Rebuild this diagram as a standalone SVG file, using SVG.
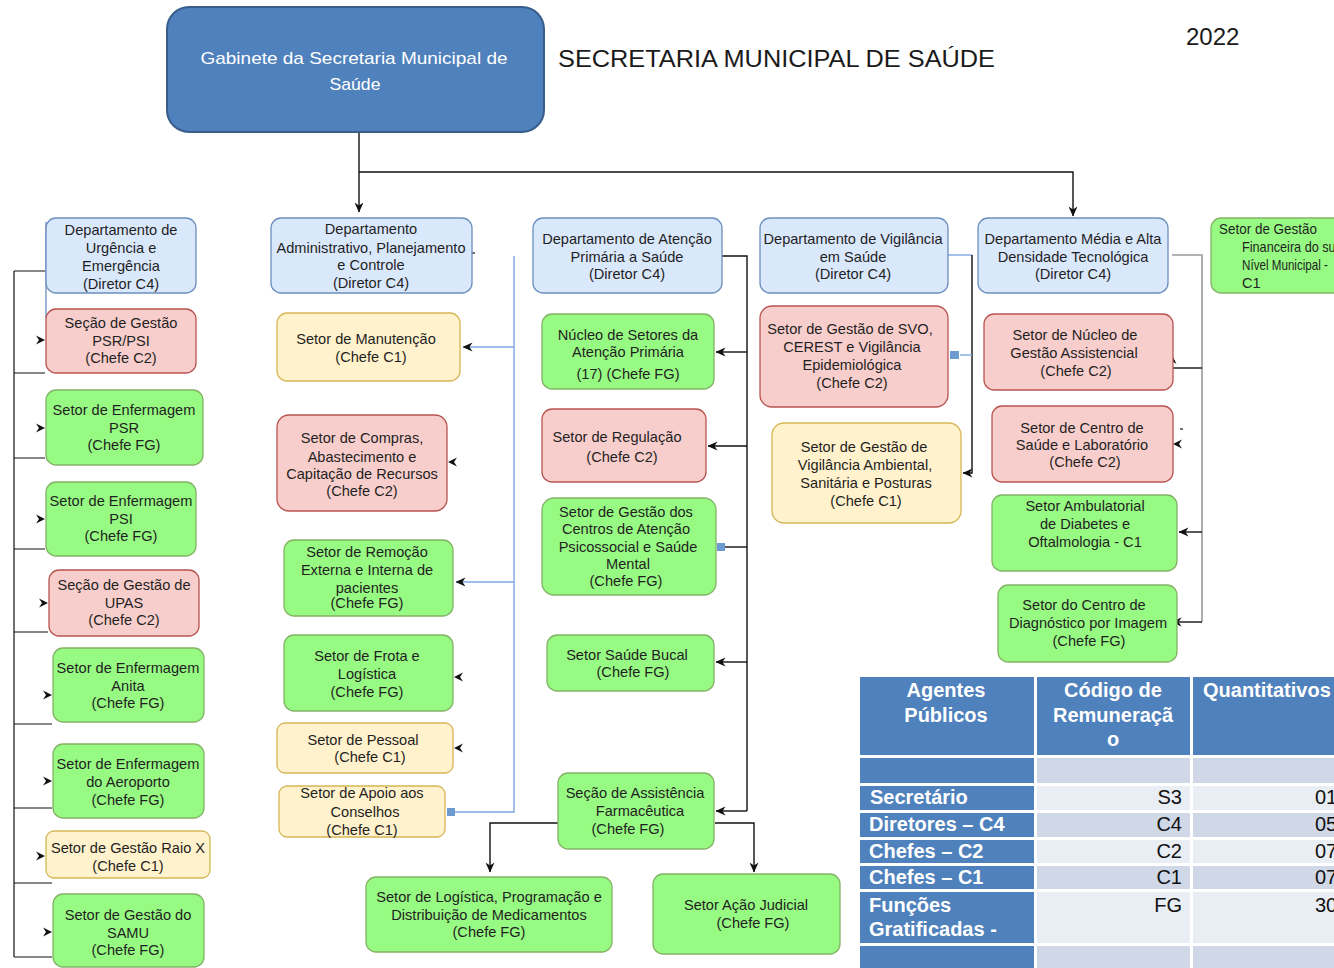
<svg xmlns="http://www.w3.org/2000/svg" xmlns:xlink="http://www.w3.org/1999/xlink" width="1334" height="968" viewBox="0 0 1334 968">
  <style>
    .bx { stroke-width: 1.3; }
    .blue { fill: #dae8fc; stroke: #6c8ebf; }
    .red { fill: #f8cecc; stroke: #b85450; }
    .yel { fill: #fff2cc; stroke: #d6b656; }
    .grn { fill: #97fa83; stroke: #82b366; }
    .t { font-family: "Liberation Sans", Arial, sans-serif; font-size: 14.6px; fill: #1f1f1f; text-anchor: middle; }
    .tl { text-anchor: start; }
    .k { fill: none; stroke: #111; stroke-width: 1.4; }
    .lb { fill: none; stroke: #7ea6e0; stroke-width: 1.4; }
    .gr { fill: none; stroke: #9a9a9a; stroke-width: 1.6; }
    .stub { fill: none; stroke: #111; stroke-width: 1.2; }
    .th { font-family: "Liberation Sans", Arial, sans-serif; font-size: 20px; font-weight: bold; fill: #ffffff; text-anchor: middle; }
    .ths { text-anchor: start; }
    .tc { font-family: "Liberation Sans", Arial, sans-serif; font-size: 20px; fill: #ffffff; font-weight: bold; }
    .tv { font-family: "Liberation Sans", Arial, sans-serif; font-size: 20px; fill: #111; }
    .tr { text-anchor: end; }
    .hd { fill: #4f81bd; }
    .r1 { fill: #d0d8e8; }
    .r2 { fill: #e9edf4; }
  </style>
  <defs>
    <marker id="arr" viewBox="0 0 10 10" refX="9.5" refY="5" markerWidth="10" markerHeight="10" markerUnits="userSpaceOnUse" orient="auto">
      <path d="M0,0.5 L10,5 L0,9.5 L3,5 Z" fill="#111"/>
    </marker>
    <!-- free-standing arrowhead, tip at the origin, pointing right -->
    <path id="ah" d="M0,0 L-9,-4.5 L-6,0 L-9,4.5 Z" fill="#111"/>
  </defs>

  <rect width="1334" height="968" fill="#ffffff"/>

  <!-- title -->
  <text x="558" y="67" font-family="Liberation Sans, Arial, sans-serif" font-size="24" fill="#1a1a1a" textLength="437" lengthAdjust="spacingAndGlyphs">SECRETARIA MUNICIPAL DE SAÚDE</text>
  <text x="1186" y="45" font-family="Liberation Sans, Arial, sans-serif" font-size="24" fill="#1a1a1a">2022</text>

  <!-- connectors -->
  <g id="connectors">
    <!-- gabinete to departments -->
    <path class="k" d="M359,132 V212" marker-end="url(#arr)"/>
    <path class="k" d="M359,172 H1073 V216" marker-end="url(#arr)"/>

    <!-- urgência column -->
    <path class="stub" d="M14,271 V957"/>
    <path class="stub" d="M14,271 H45 M14,373 H45 M14,458 H45 M14,549 H45 M14,632 H48 M14,724 H52 M14,808 H52 M14,883 H52 M14,957 H52"/>
    <path d="M46,222 V318" stroke="#6c8ebf" stroke-width="1.3" fill="none"/>
    <use href="#ah" x="45" y="340"/>
    <use href="#ah" x="45" y="428"/>
    <use href="#ah" x="45" y="519"/>
    <use href="#ah" x="48" y="603"/>
    <use href="#ah" x="52" y="695"/>
    <use href="#ah" x="52" y="781"/>
    <use href="#ah" x="45" y="856"/>
    <use href="#ah" x="52" y="932"/>

    <!-- administrativo column -->
    <path d="M472,253 H475" stroke="#111" stroke-width="1.2"/>
    <path class="lb" d="M514,256 V812 H455"/>
    <rect x="447" y="808" width="8" height="8" fill="#6c9bd2"/>
    <path class="lb" d="M514,347 H463" marker-end="url(#arr)"/>
    <path class="lb" d="M514,582 H456" marker-end="url(#arr)"/>
    <use href="#ah" x="448" y="462" transform="rotate(180 448 462)"/>
    <use href="#ah" x="454" y="677" transform="rotate(180 454 677)"/>
    <use href="#ah" x="454" y="748" transform="rotate(180 454 748)"/>

    <!-- atenção primária column -->
    <path class="k" d="M721,256 H747 V811"/>
    <path class="k" d="M747,352 H716" marker-end="url(#arr)"/>
    <path class="k" d="M747,446 H708" marker-end="url(#arr)"/>
    <path class="k" d="M747,547 H725"/>
    <rect x="717" y="543" width="8" height="8" fill="#6c9bd2"/>
    <path class="k" d="M747,662 H716" marker-end="url(#arr)"/>
    <path class="k" d="M747,811 H716" marker-end="url(#arr)"/>
    <path class="k" d="M558,823 H490 V872" marker-end="url(#arr)"/>
    <path class="k" d="M715,823 H754 V872" marker-end="url(#arr)"/>

    <!-- vigilância column -->
    <path class="lb" d="M948,255 H972"/>
    <path class="k" d="M972,255 V473 H963" marker-end="url(#arr)"/>
    <path class="lb" d="M960,355 H972"/>
    <rect x="950" y="351" width="9" height="8" fill="#6c9bd2"/>

    <!-- média e alta densidade column -->
    <path class="gr" d="M1172,255 H1202 V622"/>
    <path class="k" d="M1202,368 H1173"/>
    <use href="#ah" x="1172" y="355" transform="rotate(-90 1172 355)"/>
    <use href="#ah" x="1173" y="444" transform="rotate(180 1173 444)"/>
    <path d="M1180,429 H1183" stroke="#111" stroke-width="1.2"/>
    <path class="k" d="M1202,532 H1179" marker-end="url(#arr)"/>
    <path class="k" d="M1202,622 H1172" marker-end="url(#arr)"/>
  </g>

  <!-- gabinete -->
  <g id="gabinete">
    <rect x="167" y="7" width="377" height="125" rx="22" fill="#4f81bd" stroke="#385d8a" stroke-width="2"/>
    <text x="354" y="64" font-family="Liberation Sans, Arial, sans-serif" font-size="17" fill="#ffffff" text-anchor="middle" textLength="307" lengthAdjust="spacingAndGlyphs">Gabinete da Secretaria Municipal de</text>
    <text x="355" y="90" font-family="Liberation Sans, Arial, sans-serif" font-size="17" fill="#ffffff" text-anchor="middle" textLength="51" lengthAdjust="spacingAndGlyphs">Saúde</text>
  </g>

  <!-- departamento de urgência e emergência -->
  <g id="dep-urgencia">
    <rect class="bx blue" x="46" y="218" width="150" height="75" rx="10"/>
    <text class="t" x="121" y="235">Departamento de</text>
    <text class="t" x="121" y="253">Urgência e</text>
    <text class="t" x="121" y="271">Emergência</text>
    <text class="t" x="121" y="289">(Diretor C4)</text>
  </g>
  <g id="secao-psr-psi">
    <rect class="bx red" x="46" y="309" width="150" height="64" rx="10"/>
    <text class="t" x="121" y="328">Seção de Gestão</text>
    <text class="t" x="121" y="346">PSR/PSI</text>
    <text class="t" x="121" y="363">(Chefe C2)</text>
  </g>
  <g id="enf-psr">
    <rect class="bx grn" x="46" y="390" width="157" height="75" rx="10"/>
    <text class="t" x="124" y="415">Setor de Enfermagem</text>
    <text class="t" x="124" y="433">PSR</text>
    <text class="t" x="124" y="450">(Chefe FG)</text>
  </g>
  <g id="enf-psi">
    <rect class="bx grn" x="46" y="482" width="150" height="74" rx="10"/>
    <text class="t" x="121" y="506">Setor de Enfermagem</text>
    <text class="t" x="121" y="524">PSI</text>
    <text class="t" x="121" y="541">(Chefe FG)</text>
  </g>
  <g id="secao-upas">
    <rect class="bx red" x="49" y="570" width="150" height="66" rx="10"/>
    <text class="t" x="124" y="590">Seção de Gestão de</text>
    <text class="t" x="124" y="608">UPAS</text>
    <text class="t" x="124" y="625">(Chefe C2)</text>
  </g>
  <g id="enf-anita">
    <rect class="bx grn" x="53" y="648" width="151" height="74" rx="10"/>
    <text class="t" x="128" y="673">Setor de Enfermagem</text>
    <text class="t" x="128" y="691">Anita</text>
    <text class="t" x="128" y="708">(Chefe FG)</text>
  </g>
  <g id="enf-aeroporto">
    <rect class="bx grn" x="53" y="744" width="151" height="74" rx="10"/>
    <text class="t" x="128" y="769">Setor de Enfermagem</text>
    <text class="t" x="128" y="787">do Aeroporto</text>
    <text class="t" x="128" y="805">(Chefe FG)</text>
  </g>
  <g id="raio-x">
    <rect class="bx yel" x="46" y="831" width="164" height="47" rx="8"/>
    <text class="t" x="128" y="853">Setor de Gestão Raio X</text>
    <text class="t" x="128" y="871">(Chefe C1)</text>
  </g>
  <g id="samu">
    <rect class="bx grn" x="53" y="894" width="151" height="73" rx="10"/>
    <text class="t" x="128" y="920">Setor de Gestão do</text>
    <text class="t" x="128" y="938">SAMU</text>
    <text class="t" x="128" y="955">(Chefe FG)</text>
  </g>

  <!-- departamento administrativo -->
  <g id="dep-administrativo">
    <rect class="bx blue" x="271" y="218" width="201" height="75" rx="10"/>
    <text class="t" x="371" y="234">Departamento</text>
    <text class="t" x="371" y="253">Administrativo, Planejamento</text>
    <text class="t" x="371" y="270">e Controle</text>
    <text class="t" x="371" y="288">(Diretor C4)</text>
  </g>
  <g id="manutencao">
    <rect class="bx yel" x="277" y="313" width="183" height="68" rx="10"/>
    <text class="t" x="366" y="344">Setor de Manutenção</text>
    <text class="t" x="371" y="362">(Chefe C1)</text>
  </g>
  <g id="compras">
    <rect class="bx red" x="277" y="415" width="170" height="96" rx="12"/>
    <text class="t" x="362" y="443">Setor de Compras,</text>
    <text class="t" x="362" y="462">Abastecimento e</text>
    <text class="t" x="362" y="479">Capitação de Recursos</text>
    <text class="t" x="362" y="496">(Chefe C2)</text>
  </g>
  <g id="remocao">
    <rect class="bx grn" x="284" y="540" width="169" height="76" rx="10"/>
    <text class="t" x="367" y="557">Setor de Remoção</text>
    <text class="t" x="367" y="575">Externa e Interna de</text>
    <text class="t" x="367" y="593">pacientes</text>
    <text class="t" x="367" y="608">(Chefe FG)</text>
  </g>
  <g id="frota">
    <rect class="bx grn" x="284" y="635" width="169" height="76" rx="10"/>
    <text class="t" x="367" y="661">Setor de Frota e</text>
    <text class="t" x="367" y="679">Logística</text>
    <text class="t" x="367" y="697">(Chefe FG)</text>
  </g>
  <g id="pessoal">
    <rect class="bx yel" x="277" y="723" width="176" height="50" rx="8"/>
    <text class="t" x="363" y="745">Setor de Pessoal</text>
    <text class="t" x="370" y="762">(Chefe C1)</text>
  </g>
  <g id="apoio-conselhos">
    <rect class="bx yel" x="279" y="786" width="166" height="51" rx="8"/>
    <text class="t" x="362" y="798">Setor de Apoio aos</text>
    <text class="t" x="365" y="817">Conselhos</text>
    <text class="t" x="362" y="835">(Chefe C1)</text>
  </g>

  <!-- departamento de atenção primária -->
  <g id="dep-atencao">
    <rect class="bx blue" x="533" y="218" width="189" height="75" rx="10"/>
    <text class="t" x="627" y="244">Departamento de Atenção</text>
    <text class="t" x="627" y="262">Primária a Saúde</text>
    <text class="t" x="627" y="279">(Diretor C4)</text>
  </g>
  <g id="nucleo-setores">
    <rect class="bx grn" x="542" y="314" width="172" height="75" rx="10"/>
    <text class="t" x="628" y="340">Núcleo de Setores da</text>
    <text class="t" x="628" y="357">Atenção Primária</text>
    <text class="t" x="628" y="379">(17) (Chefe FG)</text>
  </g>
  <g id="regulacao">
    <rect class="bx red" x="542" y="409" width="164" height="73" rx="10"/>
    <text class="t" x="617" y="442">Setor de Regulação</text>
    <text class="t" x="622" y="462">(Chefe C2)</text>
  </g>
  <g id="caps">
    <rect class="bx grn" x="542" y="498" width="174" height="97" rx="12"/>
    <text class="t" x="626" y="517">Setor de Gestão dos</text>
    <text class="t" x="626" y="534">Centros de Atenção</text>
    <text class="t" x="628" y="552">Psicossocial e Saúde</text>
    <text class="t" x="628" y="569">Mental</text>
    <text class="t" x="626" y="586">(Chefe FG)</text>
  </g>
  <g id="saude-bucal">
    <rect class="bx grn" x="547" y="635" width="167" height="56" rx="10"/>
    <text class="t" x="627" y="660">Setor Saúde Bucal</text>
    <text class="t" x="633" y="677">(Chefe FG)</text>
  </g>
  <g id="assistencia-farmaceutica">
    <rect class="bx grn" x="558" y="773" width="156" height="76" rx="10"/>
    <text class="t" x="635" y="798">Seção de Assistência</text>
    <text class="t" x="640" y="816">Farmacêutica</text>
    <text class="t" x="628" y="834">(Chefe FG)</text>
  </g>
  <g id="logistica-medicamentos">
    <rect class="bx grn" x="366" y="877" width="246" height="75" rx="10"/>
    <text class="t" x="489" y="902">Setor de Logística, Programação e</text>
    <text class="t" x="489" y="920">Distribuição de Medicamentos</text>
    <text class="t" x="489" y="937">(Chefe FG)</text>
  </g>
  <g id="acao-judicial">
    <rect class="bx grn" x="653" y="874" width="187" height="80" rx="10"/>
    <text class="t" x="746" y="910">Setor Ação Judicial</text>
    <text class="t" x="753" y="928">(Chefe FG)</text>
  </g>

  <!-- departamento de vigilância em saúde -->
  <g id="dep-vigilancia">
    <rect class="bx blue" x="760" y="218" width="188" height="75" rx="10"/>
    <text class="t" x="853" y="244">Departamento de Vigilância</text>
    <text class="t" x="853" y="262">em Saúde</text>
    <text class="t" x="853" y="279">(Diretor C4)</text>
  </g>
  <g id="svo-cerest">
    <rect class="bx red" x="760" y="306" width="188" height="101" rx="12"/>
    <text class="t" x="850" y="334">Setor de Gestão de SVO,</text>
    <text class="t" x="852" y="352">CEREST e Vigilância</text>
    <text class="t" x="852" y="370">Epidemiológica</text>
    <text class="t" x="852" y="388">(Chefe C2)</text>
  </g>
  <g id="vigilancia-ambiental">
    <rect class="bx yel" x="772" y="423" width="189" height="100" rx="12"/>
    <text class="t" x="864" y="452">Setor de Gestão de</text>
    <text class="t" x="865" y="470">Vigilância Ambiental,</text>
    <text class="t" x="866" y="488">Sanitária e Posturas</text>
    <text class="t" x="866" y="506">(Chefe C1)</text>
  </g>

  <!-- departamento média e alta densidade -->
  <g id="dep-media-alta">
    <rect class="bx blue" x="978" y="218" width="190" height="75" rx="10"/>
    <text class="t" x="1073" y="244">Departamento Média e Alta</text>
    <text class="t" x="1073" y="262">Densidade Tecnológica</text>
    <text class="t" x="1073" y="279">(Diretor C4)</text>
  </g>
  <g id="nucleo-gestao">
    <rect class="bx red" x="984" y="314" width="189" height="76" rx="10"/>
    <text class="t" x="1075" y="340">Setor de Núcleo de</text>
    <text class="t" x="1074" y="358">Gestão Assistencial</text>
    <text class="t" x="1076" y="376">(Chefe C2)</text>
  </g>
  <g id="centro-saude">
    <rect class="bx red" x="992" y="406" width="181" height="76" rx="10"/>
    <text class="t" x="1082" y="433">Setor de Centro de</text>
    <text class="t" x="1082" y="450">Saúde e Laboratório</text>
    <text class="t" x="1085" y="467">(Chefe C2)</text>
  </g>
  <g id="ambulatorial">
    <rect class="bx grn" x="992" y="495" width="185" height="76" rx="10"/>
    <text class="t" x="1085" y="511">Setor Ambulatorial</text>
    <text class="t" x="1085" y="529">de Diabetes e</text>
    <text class="t" x="1085" y="547">Oftalmologia - C1</text>
  </g>
  <g id="diagnostico-imagem">
    <rect class="bx grn" x="998" y="585" width="179" height="77" rx="10"/>
    <text class="t" x="1084" y="610">Setor do Centro de</text>
    <text class="t" x="1088" y="628">Diagnóstico por Imagem</text>
    <text class="t" x="1089" y="646">(Chefe FG)</text>
  </g>
  <g id="gestao-financeira">
    <rect class="bx grn" x="1211" y="218" width="140" height="75" rx="10"/>
    <text class="t tl" x="1219" y="234" textLength="98" lengthAdjust="spacingAndGlyphs">Setor de Gestão</text>
    <text class="t tl" x="1242" y="252" textLength="100" lengthAdjust="spacingAndGlyphs">Financeira do sus</text>
    <text class="t tl" x="1242" y="270" textLength="86" lengthAdjust="spacingAndGlyphs">Nível Municipal -</text>
    <text class="t tl" x="1242" y="288">C1</text>
  </g>

  <!-- quadro de cargos -->
  <g id="quadro">
    <rect class="hd" x="860" y="677" width="174" height="78"/>
    <rect class="hd" x="1037" y="677" width="153" height="78"/>
    <rect class="hd" x="1193" y="677" width="141" height="78"/>
    <text class="th" x="946" y="697">Agentes</text>
    <text class="th" x="946" y="722">Públicos</text>
    <text class="th" x="1113" y="697">Código de</text>
    <text class="th" x="1113" y="722">Remuneraçã</text>
    <text class="th" x="1113" y="746">o</text>
    <text class="th ths" x="1203" y="697">Quantitativos</text>

    <rect class="hd" x="860" y="758" width="174" height="25"/>
    <rect class="r1" x="1037" y="758" width="153" height="25"/>
    <rect class="r1" x="1193" y="758" width="141" height="25"/>

    <rect class="hd" x="860" y="786" width="174" height="24"/>
    <rect class="r2" x="1037" y="786" width="153" height="24"/>
    <rect class="r2" x="1193" y="786" width="141" height="24"/>

    <rect class="hd" x="860" y="813" width="174" height="24"/>
    <rect class="r1" x="1037" y="813" width="153" height="24"/>
    <rect class="r1" x="1193" y="813" width="141" height="24"/>

    <rect class="hd" x="860" y="840" width="174" height="23"/>
    <rect class="r2" x="1037" y="840" width="153" height="23"/>
    <rect class="r2" x="1193" y="840" width="141" height="23"/>

    <rect class="hd" x="860" y="866" width="174" height="23"/>
    <rect class="r1" x="1037" y="866" width="153" height="23"/>
    <rect class="r1" x="1193" y="866" width="141" height="23"/>

    <rect class="hd" x="860" y="892" width="174" height="51"/>
    <rect class="r2" x="1037" y="892" width="153" height="51"/>
    <rect class="r2" x="1193" y="892" width="141" height="51"/>

    <rect class="hd" x="860" y="946" width="174" height="22"/>
    <rect class="r1" x="1037" y="946" width="153" height="22"/>
    <rect class="r1" x="1193" y="946" width="141" height="22"/>

    <text class="tc" x="870" y="804">Secretário</text>
    <text class="tc" x="869" y="831" font-weight="normal">Diretores – C4</text>
    <text class="tc" x="869" y="858">Chefes – C2</text>
    <text class="tc" x="869" y="884">Chefes – C1</text>
    <text class="tc" x="869" y="912">Funções</text>
    <text class="tc" x="869" y="936">Gratificadas -</text>

    <text class="tv tr" x="1182" y="804">S3</text>
    <text class="tv tr" x="1182" y="831">C4</text>
    <text class="tv tr" x="1182" y="858">C2</text>
    <text class="tv tr" x="1182" y="884">C1</text>
    <text class="tv tr" x="1182" y="912">FG</text>

    <text class="tv" x="1315" y="804">01</text>
    <text class="tv" x="1315" y="831">05</text>
    <text class="tv" x="1315" y="858">07</text>
    <text class="tv" x="1315" y="884">07</text>
    <text class="tv" x="1315" y="912">30</text>
  </g>
</svg>
